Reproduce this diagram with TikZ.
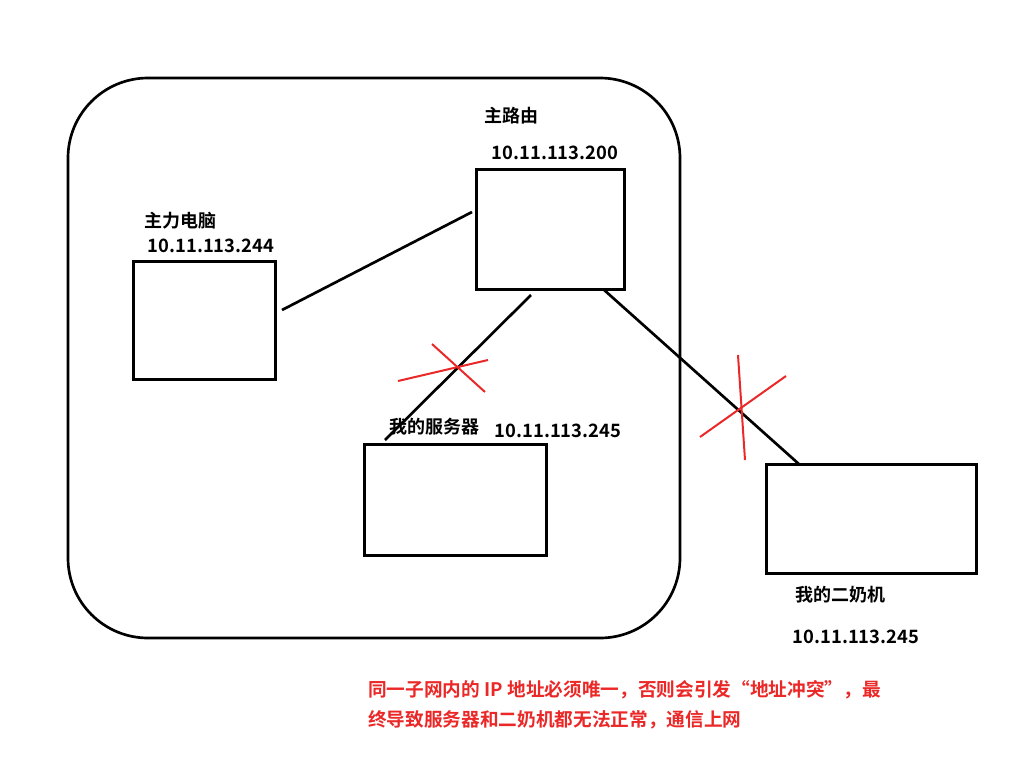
\documentclass[tikz,border=0pt]{standalone}
\usepackage{fontspec}
\setmainfont{Noto Sans CJK SC}[BoldFont={* Bold}]
\definecolor{xred}{RGB}{235,40,40}
\begin{document}
\begin{tikzpicture}[x=0.75pt,y=-0.75pt,
  box/.style={draw,line width=2pt},
  lbl/.style={font=\bfseries\fontsize{13.5}{15}\selectfont,inner sep=0},
  num/.style={font=\bfseries\fontsize{13.8}{16}\selectfont,inner sep=0},
  conn/.style={line width=2pt},
  xmark/.style={xred,line width=1.5pt}]
\useasboundingbox (0,0) rectangle (1029,775);
\draw[line width=2pt,rounded corners=60pt] (68,78) rectangle (680,638);
\node[box,minimum width=148*0.75pt,minimum height=120*0.75pt,anchor=north west] (router) at (475,168) {};
\node[box,minimum width=142*0.75pt,minimum height=118*0.75pt,anchor=north west] (pc) at (132,260) {};
\node[box,minimum width=182*0.75pt,minimum height=111*0.75pt,anchor=north west] (srv) at (363,443) {};
\node[box,minimum width=210*0.75pt,minimum height=109*0.75pt,anchor=north west] (sec) at (765,463) {};
\node[lbl] (l1) at (511,116) {主路由};
\node[num] (l2) at (555,153) {10.11.113.200};
\node[lbl] (l3) at (180,221) {主力电脑};
\node[num] (l4) at (211,246) {10.11.113.244};
\node[lbl] (l5) at (434,427) {我的服务器};
\node[num] (l6) at (558,431) {10.11.113.245};
\node[lbl] (l7) at (840,595) {我的二奶机};
\node[num] (l8) at (856,637) {10.11.113.245};
\coordinate (a1) at (282,310); \coordinate (a2) at (472,212);
\coordinate (b1) at (531,295); \coordinate (b2) at (385,440);
\coordinate (c1) at (603,289); \coordinate (c2) at (800,465);
\draw[conn] (a1) -- (a2);
\draw[conn] (b1) -- (b2);
\draw[conn] (c1) -- (c2);
\coordinate (x1) at (398,381); \coordinate (x2) at (488,360);
\coordinate (x3) at (432,344); \coordinate (x4) at (485,392);
\coordinate (y1) at (700,437); \coordinate (y2) at (786,376);
\coordinate (y3) at (738,355); \coordinate (y4) at (745,460);
\draw[xmark] (x1) -- (x2); \draw[xmark] (x3) -- (x4);
\draw[xmark] (y1) -- (y2); \draw[xmark] (y3) -- (y4);
\node[lbl,text=xred,anchor=west,align=left,font=\bfseries\fontsize{14}{22.5}\selectfont] (note) at (368,705)
 {同一子网内的 IP 地址必须唯一，否则会引发“地址冲突”，最\\终导致服务器和二奶机都无法正常，通信上网};
\end{tikzpicture}
\end{document}
